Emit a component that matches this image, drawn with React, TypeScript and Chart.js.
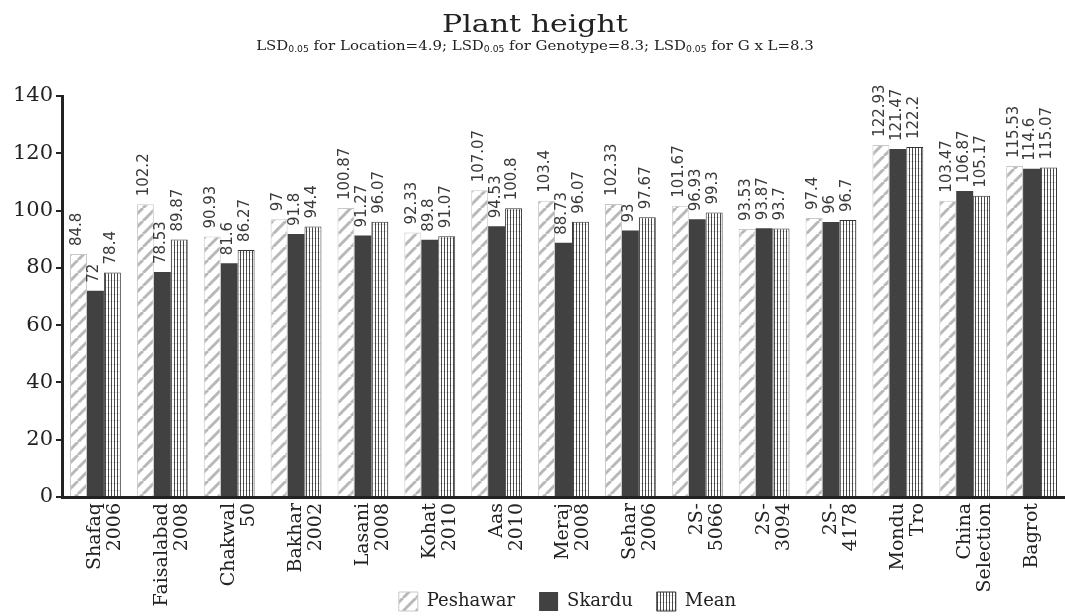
import React, { useEffect, useRef } from "react";
import { Chart, registerables } from "chart.js";

Chart.register(...registerables);

const categories: string[][] = [
  ["Shafaq", "2006"],
  ["Faisalabad", "2008"],
  ["Chakwal", "50"],
  ["Bakhar", "2002"],
  ["Lasani", "2008"],
  ["Kohat", "2010"],
  ["Aas", "2010"],
  ["Meraj", "2008"],
  ["Sehar", "2006"],
  ["2S-", "5066"],
  ["2S-", "3094"],
  ["2S-", "4178"],
  ["Mondu", "Tro"],
  ["China", "Selection"],
  ["Bagrot"],
];

const peshawar: number[] = [84.8, 102.2, 90.93, 97, 100.87, 92.33, 107.07, 103.4, 102.33, 101.67, 93.53, 97.4, 122.93, 103.47, 115.53];
const skardu: number[] = [72, 78.53, 81.6, 91.8, 91.27, 89.8, 94.53, 88.73, 93, 96.93, 93.87, 96, 121.47, 106.87, 114.6];
const mean: number[] = [78.4, 89.87, 86.27, 94.4, 96.07, 91.07, 100.8, 96.07, 97.67, 99.3, 93.7, 96.7, 122.2, 105.17, 115.07];

const yTicks: number[] = [0, 20, 40, 60, 80, 100, 120, 140];

const titleText = "Plant height";
const subtitleParts: { t: string; sub?: boolean }[] = [
  { t: "LSD" }, { t: "0.05", sub: true }, { t: " for Location=4.9; LSD" }, { t: "0.05", sub: true },
  { t: " for Genotype=8.3; LSD" }, { t: "0.05", sub: true }, { t: " for G x L=8.3" },
];

const SERIF = "'DejaVu Serif', serif";
const SANS = "'DejaVu Sans', sans-serif";

function makeHatch(): CanvasPattern | string {
  const c = document.createElement("canvas");
  const s = 13;
  c.width = s;
  c.height = s;
  const g = c.getContext("2d");
  if (!g) return "#fff";
  g.fillStyle = "#ffffff";
  g.fillRect(0, 0, s, s);
  g.strokeStyle = "#b8b8b8";
  g.lineWidth = 3;
  for (let k = -1; k <= 1; k++) {
    g.beginPath();
    g.moveTo(k * s, s);
    g.lineTo(k * s + s, 0);
    g.stroke();
  }
  const p = g.createPattern(c, "repeat");
  return p || "#fff";
}

function makeVert(): CanvasPattern | string {
  const c = document.createElement("canvas");
  c.width = 3;
  c.height = 7;
  const g = c.getContext("2d");
  if (!g) return "#fff";
  g.fillStyle = "#ffffff";
  g.fillRect(0, 0, 3, 7);
  g.fillStyle = "#4a4a4a";
  g.fillRect(0, 0, 1, 7);
  g.fillStyle = "rgba(0,0,0,0.12)";
  g.fillRect(0, 0, 3, 1);
  const p = g.createPattern(c, "repeat");
  return p || "#fff";
}

const headerPlugin = {
  id: "header",
  afterLayout(chart: any) {
    const L = chart.legend;
    if (L) {
      L.left = chart.chartArea.left;
      L.top = 568;
    }
    const xs = chart.scales.x;
    if (xs) xs.bottom = chart.height;
  },
  afterDraw(chart: any) {
    const ctx = chart.ctx as CanvasRenderingContext2D;
    const cx = 535;
    ctx.save();
    ctx.fillStyle = "#222";
    ctx.textBaseline = "alphabetic";
    ctx.textAlign = "center";
    ctx.save();
    ctx.translate(cx, 32);
    ctx.scale(1.2, 1);
    ctx.font = `25px ${SERIF}`;
    ctx.fillText(titleText, 0, 0);
    ctx.restore();

    const sx = 1.15;
    const mainFont = `13px ${SERIF}`;
    const subFont = `8px ${SANS}`;
    let total = 0;
    for (const p of subtitleParts) {
      ctx.font = p.sub ? subFont : mainFont;
      total += ctx.measureText(p.t).width;
    }
    ctx.save();
    ctx.translate(cx, 50);
    ctx.scale(sx, 1);
    let x = -total / 2;
    ctx.textAlign = "left";
    for (const p of subtitleParts) {
      ctx.font = p.sub ? subFont : mainFont;
      ctx.fillText(p.t, x, p.sub ? 2 : 0);
      x += ctx.measureText(p.t).width;
    }
    ctx.restore();
    ctx.restore();
  },
};

const valueLabelPlugin = {
  id: "valueLabels",
  afterDatasetsDraw(chart: any) {
    const ctx = chart.ctx as CanvasRenderingContext2D;
    ctx.save();
    ctx.font = `15px ${SANS}`;
    ctx.fillStyle = "#3a3a3a";
    ctx.textAlign = "left";
    ctx.textBaseline = "middle";
    chart.data.datasets.forEach((ds: any, di: number) => {
      const meta = chart.getDatasetMeta(di);
      meta.data.forEach((el: any, i: number) => {
        const v = ds.data[i];
        ctx.save();
        ctx.translate(el.x - 1, el.y - 8);
        ctx.rotate(-Math.PI / 2);
        ctx.fillText(String(v), 0, 0);
        ctx.restore();
      });
    });
    ctx.restore();
  },
};

export default function App() {
  const ref = useRef<HTMLCanvasElement | null>(null);
  useEffect(() => {
    document.body.style.margin = "0";
    const canvas = ref.current;
    if (!canvas) return;
    const hatch = makeHatch();
    const vert = makeVert();
    const chart = new Chart(canvas, {
      type: "bar",
      data: {
        labels: categories,
        datasets: [
          { label: "Peshawar", data: peshawar, backgroundColor: hatch as any, borderColor: "#c8c8c8", borderWidth: 1 },
          { label: "Skardu", data: skardu, backgroundColor: "#414141", borderColor: "#414141", borderWidth: 0 },
          { label: "Mean", data: mean, backgroundColor: vert as any, borderColor: "#333", borderWidth: 1 },
        ],
      },
      options: {
        responsive: false,
        animation: false,
        maintainAspectRatio: false,
        layout: { padding: { top: 96, right: -8, left: 0, bottom: 0 } },
        datasets: { bar: { categoryPercentage: 0.76, barPercentage: 1 } },
        plugins: {
          title: { display: false },
          tooltip: { enabled: false },
          legend: {
            display: true,
            position: "bottom",
            labels: {
              boxWidth: 19,
              boxHeight: 19,
              padding: 24,
              color: "#222",
              font: { family: SERIF, size: 18 },
            },
          },
        },
        scales: {
          x: {
            grid: { display: false, drawTicks: false, tickLength: 0 },
            border: { display: true, color: "#222", width: 3 },
            ticks: {
              color: "#222",
              font: { family: SERIF, size: 19, lineHeight: 1.05 },
              minRotation: 90,
              maxRotation: 90,
              autoSkip: false,
              padding: 6,
            },
            afterFit(scale: any) {
              scale.height = 66;
            },
          },
          y: {
            min: 0,
            max: 140,
            afterBuildTicks(scale: any) {
              scale.ticks = yTicks.map((v) => ({ value: v }));
            },
            grid: { display: true, drawOnChartArea: false, drawTicks: true, tickLength: 6, color: "#222", lineWidth: 2 },
            border: { display: true, color: "#222", width: 3 },
            ticks: { color: "#222", font: { family: SERIF, size: 21 }, padding: 3 },
            afterFit(scale: any) {
              scale.width = 62;
            },
          },
        },
      },
      plugins: [headerPlugin, valueLabelPlugin],
    } as any);
    return () => chart.destroy();
  }, []);
  return <canvas ref={ref} width={1065} height={616} style={{ display: "block" }} />;
}
